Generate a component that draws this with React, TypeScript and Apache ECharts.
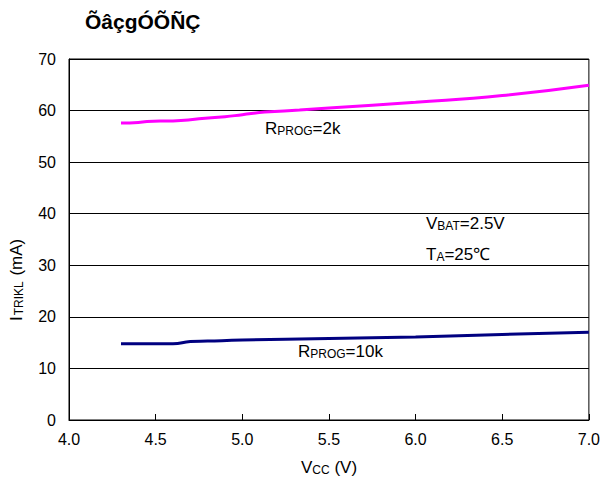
import React, { useEffect, useRef } from "react";
import * as echarts from "echarts";

const vcc2k = [4.3, 4.4, 4.45, 4.6, 4.7, 4.75, 4.9, 5.0, 5.13, 5.33, 5.5, 6.0, 6.5, 7.0];
const itrikl2k = [57.6, 57.7, 57.9, 58.0, 58.2, 58.4, 58.8, 59.2, 59.7, 60.1, 60.5, 61.6, 62.9, 64.9];
const vcc10k = [4.3, 4.45, 4.6, 4.7, 4.8, 5.0, 5.5, 6.0, 6.5, 7.0];
const itrikl10k = [14.8, 14.8, 14.8, 15.2, 15.3, 15.5, 15.8, 16.1, 16.6, 17.0];
const titleText = "ÕâçgÓÕÑÇ";

const FONT = "Liberation Sans, Arial, sans-serif";

export default function App() {
  const ref = useRef<HTMLDivElement>(null);
  useEffect(() => {
    if (!ref.current) return;
    const chart = echarts.init(ref.current, null, { renderer: "svg" });
    const sub = { fontSize: 12, fontFamily: FONT, color: "#000", verticalAlign: "bottom", lineHeight: 8 };
    const main = { fontSize: 17, fontFamily: FONT, color: "#000", verticalAlign: "bottom", lineHeight: 18 };
    chart.setOption({
      animation: false,
      backgroundColor: "#fff",
      grid: { left: 69, right: 11, top: 59, bottom: 61, show: true, borderColor: "#000", borderWidth: 1 },
      xAxis: {
        type: "value",
        min: 4,
        max: 7,
        interval: 0.5,
        axisLine: { show: true, lineStyle: { color: "#000", width: 1 } },
        axisTick: { show: true, inside: true, length: 6, lineStyle: { color: "#000" } },
        splitLine: { show: false },
        axisLabel: {
          color: "#000",
          fontSize: 16,
          fontFamily: FONT,
          margin: 11,
          formatter: (v: number) => v.toFixed(1),
        },
      },
      yAxis: {
        type: "value",
        min: 0,
        max: 70,
        interval: 10,
        axisLine: { show: true, lineStyle: { color: "#000", width: 1 } },
        axisTick: { show: false },
        splitLine: { show: true, lineStyle: { color: "#000", width: 1 } },
        axisLabel: { color: "#000", fontSize: 16, fontFamily: FONT, margin: 13 },
      },
      series: [
        {
          type: "line",
          data: vcc2k.map((x, i) => [x, itrikl2k[i]]),
          showSymbol: false,
          smooth: true,
          lineStyle: { color: "#FF00FF", width: 3 },
        },
        {
          type: "line",
          data: vcc10k.map((x, i) => [x, itrikl10k[i]]),
          showSymbol: false,
          smooth: true,
          lineStyle: { color: "#000080", width: 3 },
        },
      ],
      graphic: [
        {
          type: "text",
          left: 85,
          top: 11,
          style: { text: titleText, fontSize: 21, fontWeight: "bold", fontFamily: FONT, fill: "#000" },
        },
        {
          type: "text",
          x: 265,
          y: 137,
          style: { text: "{m|R}{s|PROG}{m|=2k}", rich: { m: main, s: sub }, verticalAlign: "bottom" },
        },
        {
          type: "text",
          x: 298,
          y: 360,
          style: { text: "{m|R}{s|PROG}{m|=10k}", rich: { m: main, s: sub }, verticalAlign: "bottom" },
        },
        {
          type: "text",
          x: 426,
          y: 232,
          style: { text: "{m|V}{s|BAT}{m|=2.5V}", rich: { m: main, s: sub }, verticalAlign: "bottom" },
        },
        {
          type: "text",
          x: 426,
          y: 263,
          style: { text: "{m|T}{s|A}{m|=25℃}", rich: { m: main, s: sub }, verticalAlign: "bottom" },
        },
        {
          type: "text",
          x: 301,
          y: 476,
          style: { text: "{m|V}{s|CC}{m| (V)}", rich: { m: main, s: sub }, verticalAlign: "bottom" },
        },
        {
          type: "text",
          x: 25,
          y: 321,
          rotation: Math.PI / 2,
          style: {
            text: "{m|I}{k|TRIKL}{m| (mA)}",
            rich: { m: main, k: { ...main, fontSize: 12, lineHeight: 15, padding: [0, 1, 0, 1] } },
            verticalAlign: "bottom",
          },
        },
      ],
    });
    return () => chart.dispose();
  }, []);
  return <div ref={ref} style={{ width: 603, height: 481, position: "fixed", left: 0, top: 0 }} />;
}
